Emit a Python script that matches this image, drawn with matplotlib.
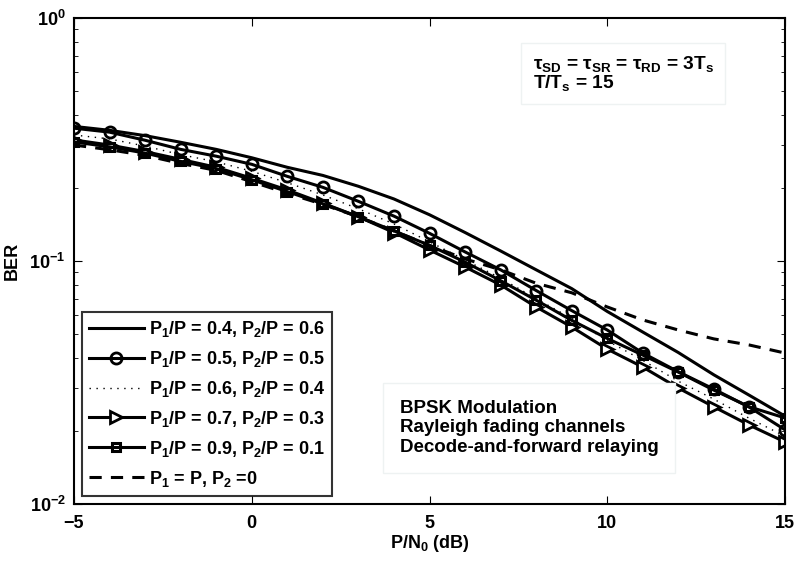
import matplotlib
matplotlib.use("Agg")
import matplotlib.pyplot as plt
import numpy as np

plt.rcParams['font.family'] = ['Liberation Sans', 'DejaVu Sans']
plt.rcParams['font.weight'] = 'bold'
plt.rcParams['mathtext.fontset'] = 'custom'
plt.rcParams['mathtext.rm'] = 'Liberation Sans:bold'
plt.rcParams['mathtext.it'] = 'Liberation Sans:bold'
plt.rcParams['mathtext.bf'] = 'Liberation Sans:bold'
plt.rcParams['mathtext.default'] = 'bf'

# SNR grid (dB)
snr = list(range(-5, 16))

# BER curves
ber_04 = [0.358, 0.345, 0.328, 0.308, 0.288, 0.266, 0.243, 0.225, 0.203, 0.180, 0.155,
          0.131, 0.110, 0.092, 0.077, 0.062, 0.051, 0.042, 0.034, 0.028, 0.023]
ber_05 = [0.352, 0.339, 0.314, 0.288, 0.270, 0.250, 0.223, 0.201, 0.176, 0.153, 0.130,
          0.109, 0.092, 0.0756, 0.0625, 0.052, 0.0418, 0.035, 0.0297, 0.025, 0.0202]
ber_06 = [0.330, 0.318, 0.297, 0.274, 0.256, 0.234, 0.210, 0.187, 0.164, 0.142, 0.120,
          0.101, 0.085, 0.070, 0.058, 0.047, 0.039, 0.032, 0.027, 0.0225, 0.019]
ber_07 = [0.315, 0.300, 0.282, 0.262, 0.243, 0.219, 0.196, 0.173, 0.152, 0.131, 0.111,
          0.0945, 0.0797, 0.0647, 0.0535, 0.0434, 0.0366, 0.030, 0.0251, 0.0211, 0.0180]
ber_09 = [0.309, 0.295, 0.278, 0.257, 0.240, 0.216, 0.193, 0.172, 0.152, 0.133, 0.116,
          0.099, 0.083, 0.069, 0.057, 0.048, 0.041, 0.0349, 0.0294, 0.0251, 0.0226]
ber_10 = [0.300, 0.287, 0.272, 0.252, 0.236, 0.212, 0.190, 0.171, 0.152, 0.133, 0.116,
          0.102, 0.092, 0.081, 0.074, 0.0647, 0.0572, 0.052, 0.0478, 0.0451, 0.0418]

labels = ['P$_1$/P = 0.4, P$_2$/P = 0.6',
          'P$_1$/P = 0.5, P$_2$/P = 0.5',
          'P$_1$/P = 0.6, P$_2$/P = 0.4',
          'P$_1$/P = 0.7, P$_2$/P = 0.3',
          'P$_1$/P = 0.9, P$_2$/P = 0.1',
          'P$_1$ = P, P$_2$ =0']

fig = plt.figure(figsize=(8.01, 5.61), dpi=100)
ax = fig.add_axes([74 / 801, 1 - 504 / 561, (785 - 74) / 801, (504 - 18) / 561])

lw = 2.2
ax.semilogy(snr, ber_04, 'k-', lw=lw, label=labels[0])
ax.semilogy(snr, ber_05, 'k-', lw=lw, marker='o', ms=8, mfc='none', mew=2, label=labels[1])
ax.semilogy(snr, ber_06, color='k', lw=1.0, ls=(0, (1, 4)), label=labels[2])
ax.semilogy(snr, ber_07, 'k-', lw=lw, marker='>', ms=9, mfc='white', mew=2, label=labels[3])
ax.semilogy(snr, ber_09, 'k-', lw=lw, marker='s', ms=6, mfc='none', mew=2.2, label=labels[4])
ax.semilogy(snr, ber_10, 'k', lw=lw, ls=(0, (4, 3)), label=labels[5])

ax.set_xlim(-5, 15)
ax.set_ylim(1e-2, 1)
ax.set_xticks([-5, 0, 5, 10, 15])
ax.tick_params(which='both', direction='in', top=True, right=True, labelsize=13)
ax.tick_params(axis='x', pad=8)
ax.tick_params(axis='y', pad=6)
ax.tick_params(which='major', length=6)
ax.tick_params(which='minor', length=3)
for s in ax.spines.values():
    s.set_linewidth(1.5)

ax.set_xlabel('P/N$_0$ (dB)', fontsize=13, fontweight='bold', labelpad=1)
ax.set_ylabel('BER', fontsize=13, fontweight='bold', labelpad=6)

leg = ax.legend(loc='lower left', fontsize=13, frameon=True, fancybox=False,
                handlelength=3.0, handletextpad=0.3, borderaxespad=0.45,
                labelspacing=0.55, borderpad=0.4)
leg.get_frame().set_edgecolor('k')
leg.get_frame().set_linewidth(1.5)

ax.text(0.645, 0.925, 'τ$_{SD}$ = τ$_{SR}$ = τ$_{RD}$ = 3T$_s$\nT/T$_s$ = 15',
        transform=ax.transAxes, fontsize=13.8, fontweight='bold', va='top', ha='left',
        linespacing=0.9,
        bbox=dict(boxstyle='square,pad=0.6', fc='white', ec='#eef2f2', lw=1))

ax.text(0.458, 0.215, 'BPSK Modulation\nRayleigh fading channels\nDecode-and-forward relaying',
        transform=ax.transAxes, fontsize=13.5, fontweight='bold', va='top', ha='left',
        linespacing=1.2,
        bbox=dict(boxstyle='square,pad=0.9', fc='white', ec='#eef2f2', lw=1))

fig.savefig('out.png', dpi=100)
